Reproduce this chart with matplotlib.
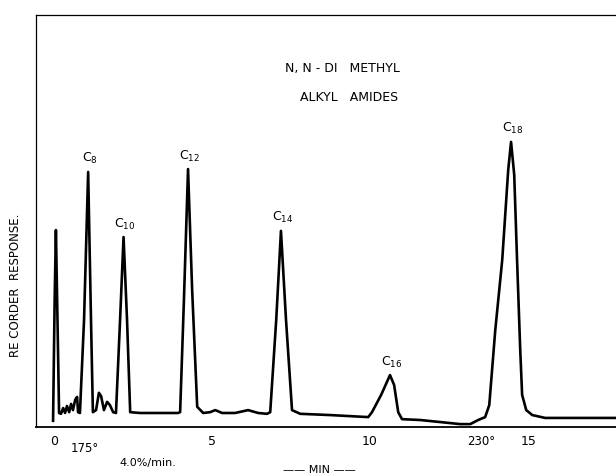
import numpy as np
import matplotlib
matplotlib.use('Agg')
import matplotlib.pyplot as plt

plt.rcParams['font.family'] = ['DejaVu Sans']
plt.rcParams['mathtext.fontset'] = 'dejavusans'

# trace: time (min) vs recorder response (% of full scale)
t_min = [-0.03, 0.02, 0.06, 0.11, 0.16, 0.22, 0.29, 0.35, 0.41, 0.48, 0.54, 0.60,
         0.67, 0.73, 0.76, 0.82, 0.95, 1.08, 1.17, 1.23, 1.33, 1.42, 1.49, 1.58,
         1.68, 1.77, 1.87, 1.96, 2.09, 2.20, 2.31, 2.41, 2.72, 3.35, 3.92, 3.99,
         4.11, 4.24, 4.37, 4.53, 4.72, 4.94, 5.10, 5.32, 5.73, 6.14, 6.46, 6.74,
         6.84, 7.03, 7.18, 7.34, 7.53, 7.79, 8.73, 9.94, 10.06, 10.35, 10.63, 10.76,
         10.89, 11.01, 11.58, 12.22, 12.85, 13.17, 13.42, 13.64, 13.77, 13.96, 14.18,
         14.37, 14.46, 14.56, 14.65, 14.75, 14.81, 14.94, 15.13, 15.54, 17.8]
response = [1.5, 30.8, 47.8, 26.0, 3.4, 3.2, 4.6, 3.4, 5.1, 3.6, 5.6, 4.1,
            6.6, 7.3, 3.6, 3.4, 26.0, 61.9, 26.0, 3.6, 4.1, 8.3, 7.5, 4.1,
            6.1, 5.3, 3.6, 3.4, 26.0, 46.1, 26.0, 3.6, 3.4, 3.4, 3.4, 3.6,
            30.8, 62.6, 33.3, 4.9, 3.4, 3.6, 4.1, 3.4, 3.4, 4.1, 3.4, 3.2,
            3.6, 26.0, 47.6, 26.0, 4.1, 3.2, 2.9, 2.4, 3.6, 7.8, 12.6, 10.2,
            3.6, 1.9, 1.7, 1.2, 0.7, 0.7, 1.7, 2.4, 5.3, 23.5, 40.5,
            62.4, 69.2, 61.2, 40.5, 18.7, 7.8, 4.1, 2.9, 2.2, 2.2]

peak_names = ['8', '10', '12', '14', '16', '18']
peak_t = [1.08, 2.20, 4.24, 7.18, 10.63, 14.46]
peak_r = [61.9, 46.1, 62.6, 47.6, 12.6, 69.2]

x_ticks = [0, 5, 10, 15]

fig = plt.figure(figsize=(6.16, 4.74), dpi=100)
ax = fig.add_axes([36 / 616, 47 / 474, 1 - 36 / 616, 412 / 474])

ax.plot(t_min, response, color='black', linewidth=1.9, solid_joinstyle='round')

for name, t, r in zip(peak_names, peak_t, peak_r):
    ax.annotate('C$_{%s}$' % name, xy=(t, r), xytext=(1, 4), textcoords='offset points',
                ha='center', va='bottom', fontsize=9)

ax.set_xlim(-0.57, 17.78)
ax.set_ylim(0, 100)
ax.set_xticks(x_ticks)
ax.set_xticklabels([str(v) for v in x_ticks])
ax.set_yticks([])
ax.tick_params(axis='x', length=0, pad=6, labelsize=9)

ax.spines['right'].set_visible(False)
ax.spines['left'].set_linewidth(0.9)
ax.spines['top'].set_linewidth(0.9)
ax.spines['bottom'].set_linewidth(1.3)

ax.text(0.529, 0.869, 'N, N - DI   METHYL', transform=ax.transAxes,
        ha='center', va='center', fontsize=9)
ax.text(0.54, 0.80, 'ALKYL   AMIDES', transform=ax.transAxes,
        ha='center', va='center', fontsize=9)

xax = ax.get_xaxis_transform()
ax.text(0.98, -0.051, '175°', transform=xax, ha='center', va='center', fontsize=8.5)
ax.text(13.5, -0.036, '230°', transform=xax, ha='center', va='center', fontsize=8.5)
ax.text(2.97, -0.087, '4.0%/min.', transform=xax, ha='center', va='center', fontsize=8)
ax.text(8.4, -0.105, '—— MIN ——', transform=xax, ha='center', va='center', fontsize=8)

fig.text(16 / 616, (474 - 285) / 474, 'RE CORDER  RESPONSE.', rotation=90,
         ha='center', va='center', fontsize=8.5)

fig.savefig('out.png', dpi=100)
